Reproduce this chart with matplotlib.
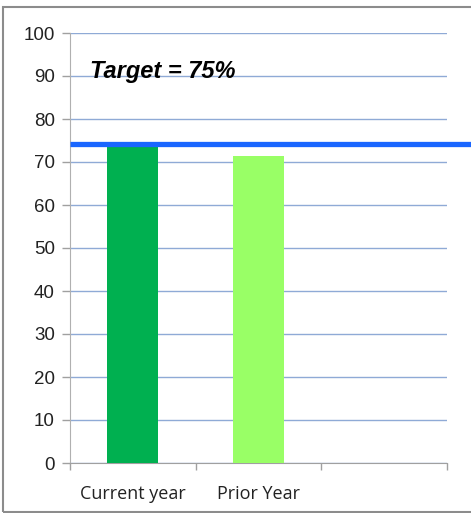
import matplotlib.pyplot as plt
from matplotlib.patches import Rectangle
import matplotlib.transforms as mtransforms

categories = ['Current year', 'Prior Year', '']
values = [74.0, 71.5, 0]
bar_colors = ['#00B050', '#99FF66', '#FFFFFF']
target = 74.3
target_label = 'Target = 75%'
yticks = [0, 10, 20, 30, 40, 50, 60, 70, 80, 90, 100]

W, H = 471, 513
fig = plt.figure(figsize=(W / 100, H / 100), dpi=100)
ax = fig.add_axes([70 / W, (H - 463) / H, (447 - 70) / W, (463 - 33) / H])

x = list(range(len(categories)))
ax.bar(x[:2], values[:2], width=0.405, color=bar_colors[:2], zorder=3)

ax.set_xlim(-0.5, 2.5)
ax.set_ylim(0, 100)
ax.set_yticks(yticks)
ax.set_yticklabels([str(t) for t in yticks], fontsize=13.5,
                   family='Liberation Sans', color='#222222')
ax.yaxis.grid(True, color='#8FAAD6', linewidth=1.0, zorder=1)
ax.set_axisbelow(True)

# category labels centered, ticks between categories
ax.set_xticks(x)
ax.set_xticklabels(categories, fontsize=13, family='Open Sans', color='#222222')
ax.tick_params(axis='x', which='major', length=0, pad=16)
ax.set_xticks([-0.5, 0.5, 1.5, 2.5], minor=True)
ax.tick_params(axis='x', which='minor', length=5, color='#A0A0A0', width=1)
ax.tick_params(axis='y', length=6, color='#A0A0A0', width=1, pad=5)

for s in ['top', 'right']:
    ax.spines[s].set_visible(False)
ax.spines['left'].set_color('#B0B0B0')
ax.spines['bottom'].set_color('#A0A0A0')

# target line runs past the plot to the right edge
trans = mtransforms.blended_transform_factory(ax.transAxes, ax.transData)
ax.plot([0, 1.2], [target, target], color='#1A66FF', linewidth=3.8,
        transform=trans, clip_on=False, zorder=5, solid_capstyle='butt')

ax.text(-0.338, 89.5, target_label, fontsize=17, fontweight='bold',
        fontstyle='italic', family='Liberation Sans', color='black',
        va='baseline', ha='left', zorder=6)

# outer chart border
fig.patches.append(Rectangle((3 / W, 1 / H), 1.2, (H - 8) / H,
                             transform=fig.transFigure, fill=False,
                             edgecolor='#8C8C8C', linewidth=1.5))

fig.savefig('out.png', dpi=100)
